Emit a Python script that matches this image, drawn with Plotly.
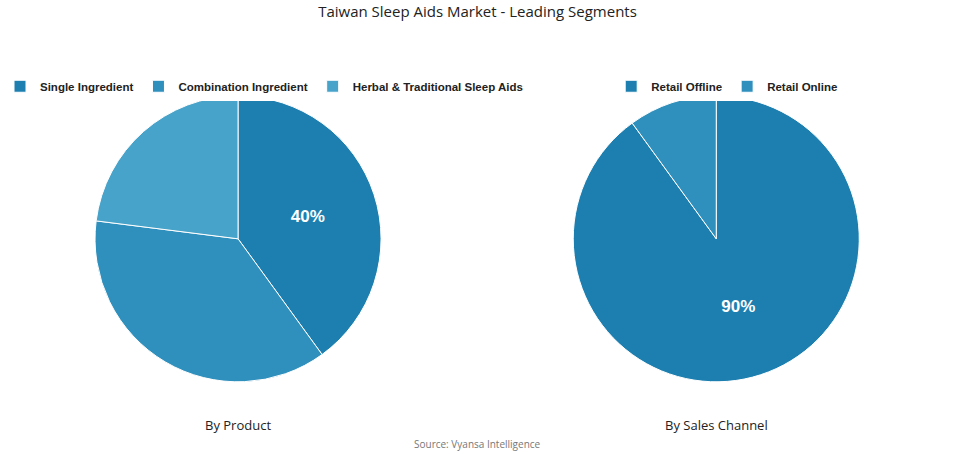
import plotly.graph_objects as go

product_labels = ["Single Ingredient", "Combination Ingredient", "Herbal & Traditional Sleep Aids"]
product_values = [40, 37, 23]
product_text = ["40%", "", ""]

channel_labels = ["Retail Offline", "Retail Online"]
channel_values = [90, 10]
channel_text = ["90%", ""]

colors = ["#1c7fb0", "#2f8fbd", "#47a3c9"]

fig = go.Figure()
fig.add_trace(go.Pie(
    labels=product_labels, values=product_values, text=product_text,
    textinfo="text", sort=False, direction="clockwise", rotation=0,
    marker=dict(colors=colors, line=dict(color="white", width=1)),
    textfont=dict(color="white", size=17, family="Liberation Sans", weight="bold"),
    domain=dict(x=[0.0995, 0.399], y=[0.159, 0.789]),
    legend="legend", hoverinfo="label+percent",
))
fig.add_trace(go.Pie(
    labels=channel_labels, values=channel_values, text=channel_text,
    textinfo="text", sort=False, direction="clockwise", rotation=0,
    marker=dict(colors=colors[:2], line=dict(color="white", width=1)),
    textfont=dict(color="white", size=17, family="Liberation Sans", weight="bold"),
    domain=dict(x=[0.6, 0.9], y=[0.159, 0.789]),
    legend="legend2", hoverinfo="label+percent",
))

legend_font = dict(family="Liberation Sans", size=11.5, color="#222", weight="bold")
fig.update_layout(
    width=955, height=454,
    margin=dict(l=0, r=0, t=0, b=0),
    paper_bgcolor="white",
    title=dict(text="Taiwan Sleep Aids Market - Leading Segments", x=0.5, y=0.975,
               xanchor="center", yanchor="middle",
               font=dict(family="Open Sans", size=15, color="#222")),
    legend=dict(orientation="h", x=0.0, y=0.81, xanchor="left", yanchor="middle",
                font=legend_font, itemwidth=30, tracegroupgap=0),
    legend2=dict(orientation="h", x=0.640, y=0.81, xanchor="left", yanchor="middle",
                 font=legend_font, itemwidth=30),
    annotations=[
        dict(text="By Product", x=0.249, y=1 - 425 / 454, xref="paper", yref="paper",
             xanchor="center", yanchor="middle",
             showarrow=False, font=dict(family="Open Sans", size=13, color="#222")),
        dict(text="By Sales Channel", x=0.75, y=1 - 425 / 454, xref="paper", yref="paper",
             xanchor="center", yanchor="middle",
             showarrow=False, font=dict(family="Open Sans", size=13, color="#222")),
        dict(text="Source: Vyansa Intelligence", x=0.5, y=1 - 444 / 454, xref="paper", yref="paper",
             xanchor="center", yanchor="middle",
             showarrow=False, font=dict(family="Open Sans", size=10, color="#777")),
    ],
)
fig.write_html("out.html", config={"displayModeBar": False},
               post_script="document.body.style.margin='0';")
